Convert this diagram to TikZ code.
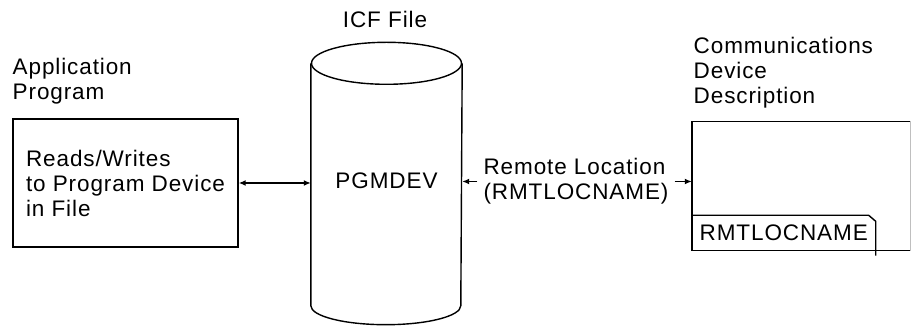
\documentclass[tikz,border=0pt]{standalone}
\usepackage{fontspec}
\setmainfont{Liberation Sans}[LetterSpace=4]
\usetikzlibrary{arrows.meta}
\tikzset{
	txt/.style={inner sep=0pt, align=left},
	frame/.style={draw, align=left},
}

\begin{document}
\begin{tikzpicture}[x=1pt, y=1pt, line width=1.4pt, >={Latex[length=7pt,width=6pt]},
	font=\fontsize{22.5}{25}\selectfont]
	\useasboundingbox (0,0) rectangle (911,326);
	% application program
	\node[txt, anchor=base west] (apptitle) at (12,226) {Application\\Program};
	\node[frame, minimum width=225pt, minimum height=128pt] (app) at (125.5,143)
	{Reads/Writes\\to Program Device\\in File};
	% ICF file
	\node[minimum width=150pt, minimum height=241pt, text depth=7pt] (icf) at (386.5,141.5) {PGMDEV};
	\draw (icf.north west) -- (icf.south west)
	arc[start angle=180, end angle=360, x radius=75pt, y radius=19pt] -- (icf.north east);
	\draw (icf.north) ellipse [x radius=75pt, y radius=21pt];
	\node[txt, anchor=base] (icftitle) at (385,298) {ICF File};
	% communications device description
	\node[minimum width=217.5pt, minimum height=128pt] (comm) at (801.25,140) {};
	\draw (comm.north east) -- (comm.north west) -- (comm.south west) -- (comm.south east);
	\draw[gray!50, line width=0.6pt] (comm.south east) -- (comm.north east);
	\node[txt, anchor=base west] (commtitle) at (693,222) {Communications\\Device\\Description};
	% tab
	\node[anchor=south west, minimum width=182.5pt, minimum height=34pt] (tab) at (comm.south west) {RMTLOCNAME};
	\draw (tab.north west) -- ([xshift=-7pt]tab.north east) -- ([yshift=-6pt]tab.north east)
	-- ([yshift=-5pt]tab.south east);
	% remote location
	\node[txt, inner xsep=5.5pt] (remote) at (576,144.5) {Remote Location\\(RMTLOCNAME)};
	% connections
	\draw[<->] (app.east) -- (app.east -| icf.west);
	\draw[->] (remote.west) -- (remote.west -| icf.east);
	\draw[->] (remote.east) -- (remote.east -| comm.west);
\end{tikzpicture}
\end{document}
